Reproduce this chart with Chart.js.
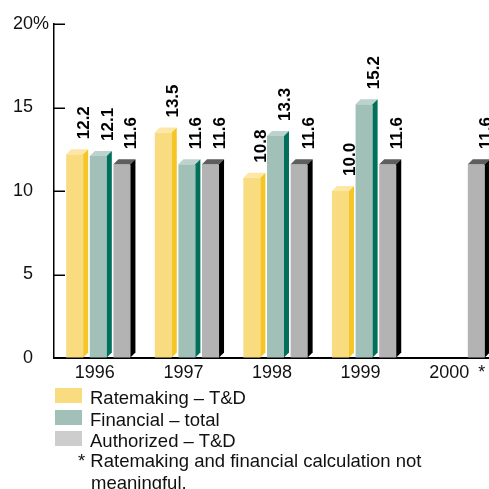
<!DOCTYPE html>
<html><head><meta charset="utf-8">
<script src="https://cdn.jsdelivr.net/npm/chart.js@4.4.0/dist/chart.umd.min.js"></script>
<style>
html,body{margin:0;padding:0;width:489px;height:489px;overflow:hidden;background:#fff;}
#wrap{position:relative;width:489px;height:489px;overflow:hidden;}
#c{position:absolute;left:0;top:0;}
.txt{position:absolute;font-family:"Liberation Sans",Arial,sans-serif;font-size:18.5px;color:#111;white-space:nowrap;}
.row{left:55px;height:21.5px;line-height:21.5px;}
.box{position:absolute;left:0;top:1px;width:27px;height:15px;}
.lab{position:absolute;left:35px;top:0;}
#note{left:91px;top:450px;line-height:22px;text-indent:-13px;}
</style></head>
<body><div id="wrap"><canvas id="c" width="500" height="489"></canvas></div>
<script>
const categories = ['1996','1997','1998','1999','2000'];
const ratemaking = [12.2, 13.5, 10.8, 10.0, null];
const financial  = [12.1, 11.6, 13.3, 15.2, null];
const authorized = [11.6, 11.6, 11.6, 11.6, 11.6];
const yTickValues = [0, 5, 10, 15, 20];
const seriesNames = ['Ratemaking \u2013 T&D', 'Financial \u2013 total', 'Authorized \u2013 T&D'];
const footnoteMarker = '*';
const footnoteLines = ['* Ratemaking and financial calculation not', 'meaningful.'];

const frontColors  = ['#F9DB80', '#A1C0B8', '#B3B3B3'];
const sideColors   = ['#F5C626', '#00705B', '#000000'];
const topColors    = ['#FDE7A6', '#BBD3CC', '#5E5E5E'];
const legendColors = ['#F9DB80', '#A1C0B8', '#CDCDCD'];
const DEPTH = 5;
const FONT = '"Liberation Sans", Arial, sans-serif';

const wrap = document.getElementById('wrap');
seriesNames.forEach((name, i) => {
  const row = document.createElement('div');
  row.className = 'txt row';
  row.style.top = (387 + i * 21.5) + 'px';
  row.innerHTML = '<span class="box" style="background:' + legendColors[i] + '"></span><span class="lab"></span>';
  row.querySelector('.lab').textContent = name;
  wrap.appendChild(row);
});
const note = document.createElement('div');
note.className = 'txt';
note.id = 'note';
note.innerHTML = footnoteLines.map(s => s.replace(/&/g,'&amp;')).join('<br>');
wrap.appendChild(note);

const bar3d = {
  id: 'bar3d',
  beforeDatasetsDraw(chart) {
    const ctx = chart.ctx, y = chart.scales.y, a = chart.chartArea;
    ctx.save();
    ctx.strokeStyle = '#000';
    ctx.lineWidth = 1.5;
    yTickValues.forEach(v => {
      if (v === 0) return;
      const py = Math.round(y.getPixelForValue(v)) + 0.25;
      ctx.beginPath(); ctx.moveTo(a.left, py); ctx.lineTo(a.left + 11, py); ctx.stroke();
    });
    ctx.restore();
  },
  afterDatasetsDraw(chart) {
    const ctx = chart.ctx;
    ctx.save();
    chart.data.datasets.forEach((ds, i) => {
      const meta = chart.getDatasetMeta(i);
      meta.data.forEach((bar, j) => {
        const v = ds.data[j];
        if (v == null) return;
        const p = bar.getProps(['x', 'y', 'base', 'width'], true);
        const l = p.x - p.width / 2, r = p.x + p.width / 2;
        ctx.fillStyle = topColors[i];
        ctx.beginPath();
        ctx.moveTo(l, p.y); ctx.lineTo(l + DEPTH, p.y - DEPTH);
        ctx.lineTo(r + DEPTH, p.y - DEPTH); ctx.lineTo(r, p.y); ctx.closePath(); ctx.fill();
        ctx.fillStyle = sideColors[i];
        ctx.beginPath();
        ctx.moveTo(r, p.y); ctx.lineTo(r + DEPTH, p.y - DEPTH);
        ctx.lineTo(r + DEPTH, p.base - DEPTH); ctx.lineTo(r, p.base); ctx.closePath(); ctx.fill();
        ctx.save();
        ctx.translate(r + DEPTH + 1, p.y - 15);
        ctx.rotate(-Math.PI / 2);
        ctx.font = 'bold 17px ' + FONT;
        ctx.fillStyle = '#000';
        ctx.textAlign = 'left';
        ctx.textBaseline = 'alphabetic';
        ctx.fillText(v.toFixed(1), 0, 0);
        ctx.restore();
      });
    });
    ctx.restore();
  },
  afterDraw(chart) {
    const ctx = chart.ctx, x = chart.scales.x, y = chart.scales.y;
    ctx.save();
    ctx.font = '18px ' + FONT;
    ctx.fillStyle = '#111';
    ctx.textBaseline = 'middle';
    ctx.textAlign = 'left';
    ctx.fillText('%', y.right - 21, y.getPixelForValue(20));
    ctx.fillText(footnoteMarker, x.getPixelForValue(categories.length - 1) - 3.5 + 29, x.top + 4 + 10.8);
    ctx.restore();
  }
};

new Chart(document.getElementById('c'), {
  type: 'bar',
  data: {
    labels: categories,
    datasets: [
      { label: seriesNames[0], data: ratemaking, backgroundColor: frontColors[0] },
      { label: seriesNames[1], data: financial,  backgroundColor: frontColors[1] },
      { label: seriesNames[2], data: authorized, backgroundColor: frontColors[2] }
    ]
  },
  options: {
    responsive: false,
    animation: false,
    devicePixelRatio: 1,
    layout: { padding: { left: 0, right: 3, top: 24, bottom: 101 } },
    datasets: { bar: { categoryPercentage: 0.8, barPercentage: 0.72, borderWidth: 0 } },
    plugins: { legend: { display: false }, tooltip: { enabled: false } },
    scales: {
      x: {
        grid: { display: true, drawOnChartArea: false, drawTicks: false, color: 'rgba(0,0,0,0)' },
        border: { display: true, color: '#000', width: 2 },
        ticks: { color: '#111', font: { family: FONT, size: 18 }, padding: 4, labelOffset: -3.5, maxRotation: 0 },
        afterFit(s) { s.height = 30; s.paddingLeft = 0; s.paddingRight = 0; }
      },
      y: {
        min: 0, max: 20,
        afterBuildTicks(s) { s.ticks = yTickValues.map(v => ({ value: v })); },
        grid: { display: true, drawOnChartArea: false, drawTicks: false, color: 'rgba(0,0,0,0)' },
        border: { display: true, color: '#000', width: 1.5 },
        ticks: { color: '#111', font: { family: FONT, size: 18 }, padding: 21 },
        afterFit(s) { s.width = 54; s.paddingTop = 0; s.paddingBottom = 0; }
      }
    }
  },
  plugins: [bar3d]
});
</script></body></html>
